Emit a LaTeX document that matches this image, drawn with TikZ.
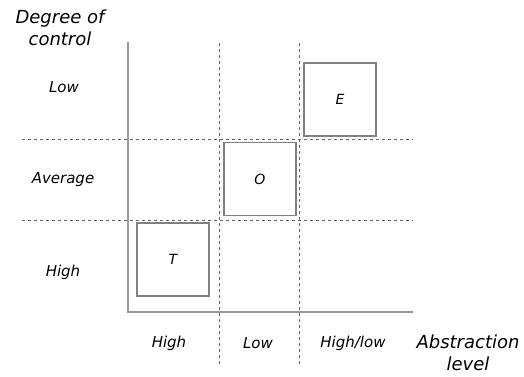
\documentclass[tikz,border=0pt]{standalone}
\usepackage{fontspec}
\setmainfont{DejaVu Sans}
\begin{document}
\begin{tikzpicture}[x=1pt,y=-1pt,
  axisline/.style={draw=black!40,line width=2pt},
  gridline/.style={draw=black!60,line width=0.8pt,dash pattern=on 3pt off 3pt},
  cellbox/.style={draw=black!50,line width=1.1pt,minimum width=72pt,minimum height=73pt,inner sep=0pt,font=\itshape\fontsize{14}{16}\selectfont},
  smalllab/.style={font=\itshape\fontsize{15}{18}\selectfont,inner sep=0pt},
  biglab/.style={font=\itshape\fontsize{18}{22.5}\selectfont,align=center,inner sep=0pt}]
\useasboundingbox (0,0) rectangle (524,376);
% grid
\coordinate (v1t) at (219,43); \coordinate (v1b) at (219,366);
\coordinate (v2t) at (299,43); \coordinate (v2b) at (299,366);
\coordinate (h1l) at (22,139); \coordinate (h1r) at (413,139);
\coordinate (h2l) at (22,220); \coordinate (h2r) at (413,220);
\draw[gridline] (v1t) -- (v1b);
\draw[gridline] (v2t) -- (v2b);
\draw[gridline] (h1l) -- (h1r);
\draw[gridline] (h2l) -- (h2r);
% axes
\coordinate (ytop) at (128,42);
\coordinate (origin) at (128,312);
\coordinate (xend) at (413,312);
\draw[axisline] (ytop) -- (origin) -- (xend);
% boxes
\node[cellbox] (E) at (340,99.5) {E};
\node[cellbox] (O) at (260,179) {O};
\node[cellbox] (T) at (173,259.5) {T};
% labels
\node[biglab] (ylab) at (60,28) {Degree of\\control};
\node[biglab] (xlab) at (468,353) {Abstraction\\level};
\node[smalllab] (rlow) at (64,87) {Low};
\node[smalllab] (ravg) at (63,180) {Average};
\node[smalllab] (rhigh) at (63,272) {High};
\node[smalllab] (chigh) at (169,343) {High};
\node[smalllab] (clow) at (258,343) {Low};
\node[smalllab] (chl) at (353,343) {High/low};
\end{tikzpicture}
\end{document}
